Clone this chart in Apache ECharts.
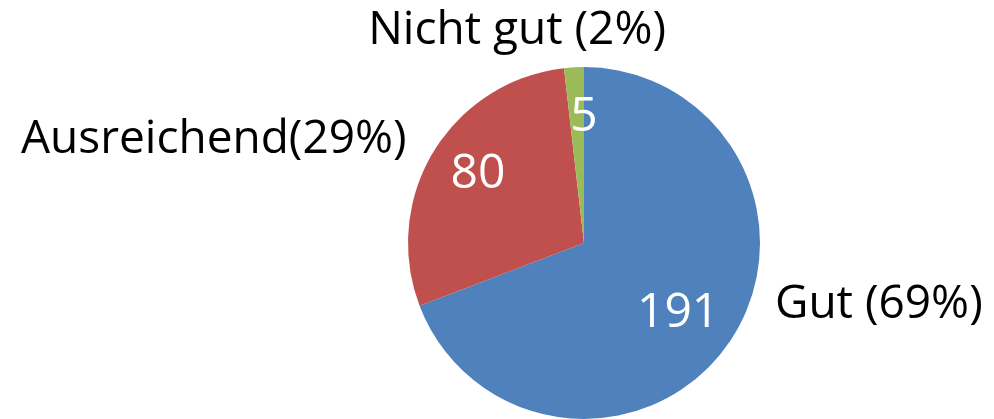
<!DOCTYPE html>
<html>
<head>
<meta charset="utf-8">
<script src="https://cdn.jsdelivr.net/npm/echarts@6/dist/echarts.min.js"></script>
<style>
html,body{margin:0;padding:0;background:#fff;}
#chart{width:994px;height:419px;}
</style>
</head>
<body>
<div id="chart"></div>
<script>
// Data
var categories = ['Gut', 'Ausreichend', 'Nicht gut'];
var values = [191, 80, 5];
var percentLabels = ['Gut (69%)', 'Ausreichend(29%)', 'Nicht gut (2%)'];

// Styles / positions (not data)
var colors = ['#4F81BD', '#C0504D', '#9BBB59'];
var outerShift = [[41, -38], [-22, -12], [97, -36]];
var innerShift = [[-8, 0], [0, -4], [7, -2]];

var seriesData = categories.map(function (c, i) {
  return { name: c, value: values[i], itemStyle: { color: colors[i] } };
});
var overlayData = categories.map(function (c, i) {
  return { name: c, value: values[i] };
});

var chart = echarts.init(document.getElementById('chart'), null, { renderer: 'canvas' });
chart.setOption({
  animation: false,
  backgroundColor: '#ffffff',
  series: [
    {
      type: 'pie',
      center: [584, 243],
      radius: [0, 176],
      startAngle: 90,
      clockwise: true,
      avoidLabelOverlap: false,
      silent: true,
      data: seriesData,
      itemStyle: { borderWidth: 0 },
      label: {
        show: true,
        position: 'outside',
        distance: 0,
        fontFamily: 'Open Sans',
        fontSize: 46,
        color: '#000000',
        formatter: function (p) { return percentLabels[p.dataIndex]; }
      },
      labelLine: { show: false, length: 0, length2: 0 },
      labelLayout: function (p) {
        return { dx: outerShift[p.dataIndex][0], dy: outerShift[p.dataIndex][1] };
      }
    },
    {
      type: 'pie',
      center: [584, 243],
      radius: [66, 176],
      startAngle: 90,
      clockwise: true,
      avoidLabelOverlap: false,
      silent: true,
      z: 5,
      data: overlayData,
      itemStyle: { color: 'rgba(0,0,0,0)', borderWidth: 0 },
      label: {
        show: true,
        position: 'inside',
        fontFamily: 'Open Sans',
        fontSize: 48,
        color: '#ffffff',
        formatter: function (p) { return String(values[p.dataIndex]); }
      },
      labelLine: { show: false },
      labelLayout: function (p) {
        return { dx: innerShift[p.dataIndex][0], dy: innerShift[p.dataIndex][1] };
      }
    }
  ]
});
</script>
</body>
</html>
